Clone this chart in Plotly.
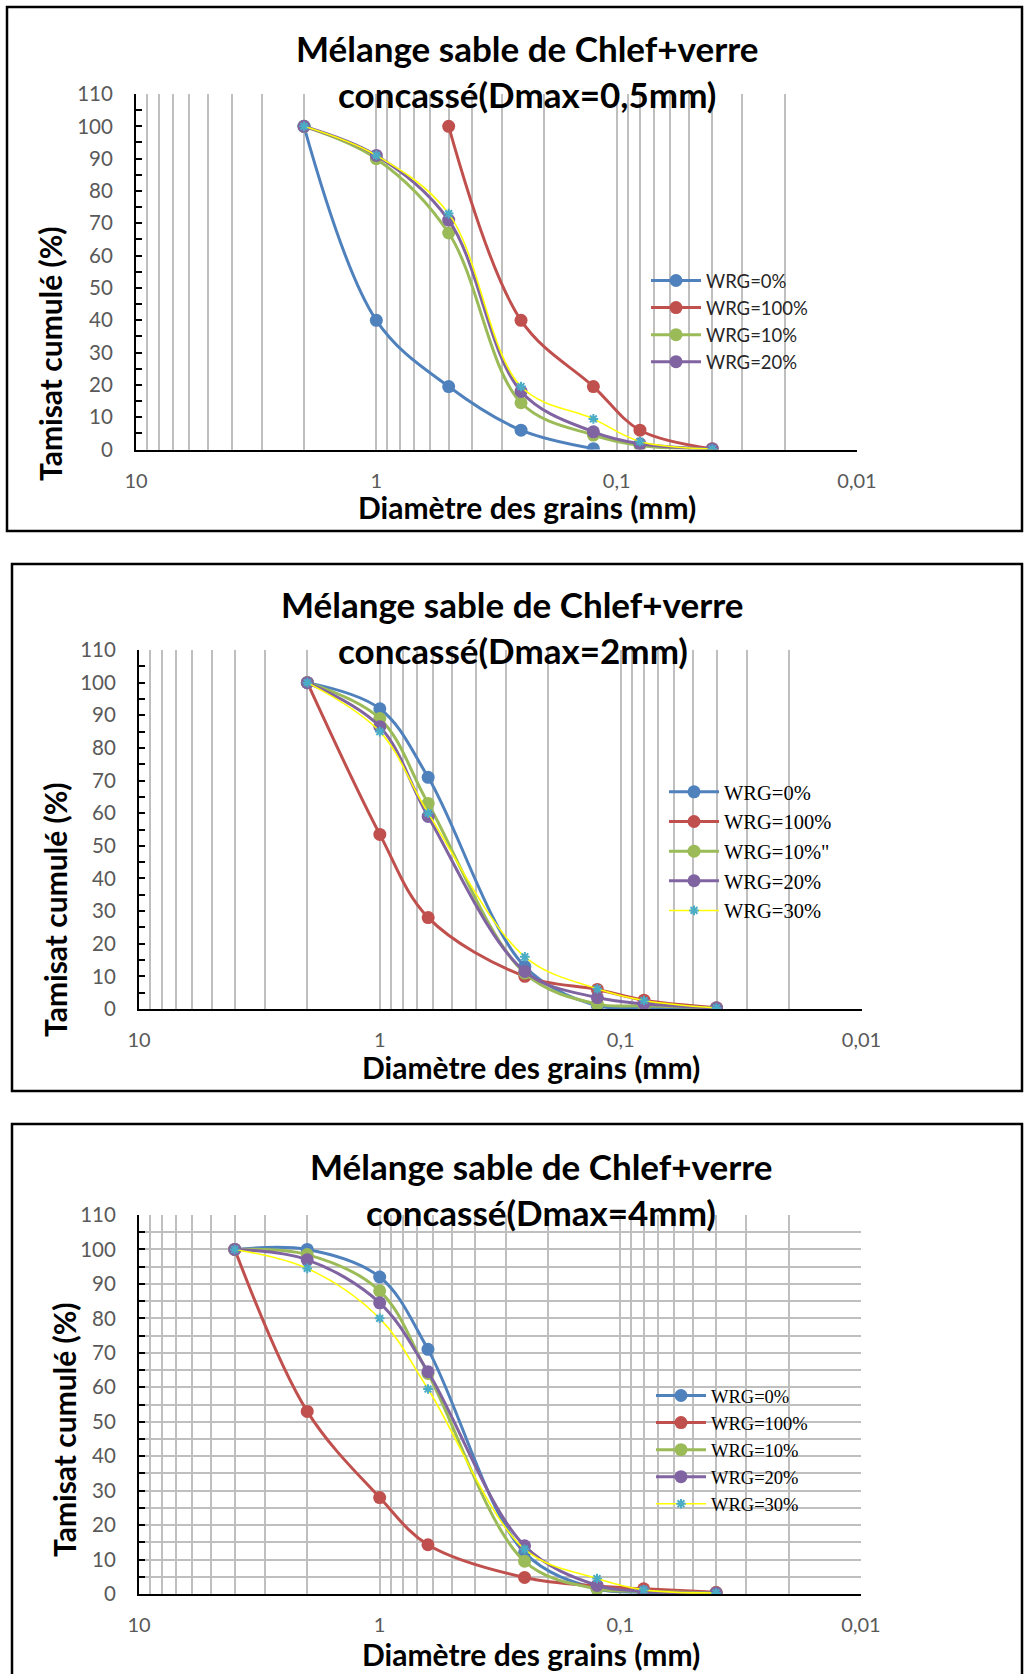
import plotly.graph_objects as go

# ---------------------------------------------------------------------------
# Data: cumulative passing (%) versus sieve opening (mm)
# ---------------------------------------------------------------------------
# Mix with Dmax = 0.5 mm
sieves_05 = [2, 1, 0.5, 0.25, 0.125, 0.08, 0.04]
d05_wrg0_x = [2, 1, 0.5, 0.25, 0.125]
d05_wrg0 = [100, 40, 19.5, 6, 0.3]
d05_wrg100_x = [0.5, 0.25, 0.125, 0.08, 0.04]
d05_wrg100 = [100, 40, 19.5, 6, 0.3]
d05_wrg10 = [100, 90, 67, 14.5, 4.5, 1.3, 0.2]
d05_wrg20 = [100, 91, 71, 18, 5.5, 1.8, 0.2]
d05_wrg30 = [100, 91, 73, 19.5, 9.5, 2.5, 0.2]

# Mix with Dmax = 2 mm
sieves_2 = [2, 1, 0.63, 0.25, 0.125, 0.08, 0.04]
d2_wrg0 = [100, 92, 71, 13, 1, 0.5, 0.3]
d2_wrg100 = [100, 53.5, 28, 10, 6, 2.7, 0.4]
d2_wrg10 = [100, 89, 63, 11, 1.5, 1, 0.3]
d2_wrg20 = [100, 86.5, 59, 11.5, 3.5, 1.6, 0.3]
d2_wrg30 = [100, 85, 60, 16, 6.2, 2.6, 0.3]

# Mix with Dmax = 4 mm
sieves_4 = [4, 2, 1, 0.63, 0.25, 0.125, 0.08, 0.04]
d4_wrg0 = [100, 100, 92, 71, 12, 1.5, 0.5, 0.3]
d4_wrg100 = [100, 53, 28, 14.3, 4.8, 2.3, 1.5, 0.5]
d4_wrg10 = [100, 98.5, 88, 64, 9.5, 1.5, 0.8, 0.3]
d4_wrg20 = [100, 97, 84.5, 64.5, 14, 2.5, 0.8, 0.3]
d4_wrg30 = [100, 94.5, 80, 59.5, 13, 4.5, 1.2, 0.3]

x_tick_vals = [10, 1, 0.1, 0.01]
x_tick_text = ["10", "1", "0,1", "0,01"]

# ---------------------------------------------------------------------------
W, H = 1024, 1674
BLUE, RED, GREEN, PURPLE = "#4F81BD", "#C0504D", "#9BBB59", "#8064A2"
YELLOW, CYAN = "#FFFF00", "#4BACC6"
GRID = "#BFBFBF"
TICK_GREY = "#595959"
SANS = "Lato"
SERIF = "Liberation Serif"


def fx(px):
    return px / W


def fy(px):
    return 1 - px / H


minor_vals = [m * 10.0 ** e for e in (0, -1, -2) for m in range(2, 10)]

panels = [
    dict(
        dmax="0,5",
        series=[
            ("WRG=0%", d05_wrg0_x, d05_wrg0, BLUE, True),
            ("WRG=100%", d05_wrg100_x, d05_wrg100, RED, True),
            ("WRG=10%", sieves_05, d05_wrg10, GREEN, True),
            ("WRG=20%", sieves_05, d05_wrg20, PURPLE, True),
            ("WRG=30%", sieves_05, d05_wrg30, None, False),
        ],
        box=(7, 7, 1022, 531),
        plot=(136, 94, 857, 449.6),
        title_xy=(527, 48, 94),
        xtitle_xy=(527, 507),
        ytitle_xy=(50, 354),
        hgrid=False,
        legend=dict(x=646, y=262, family=SANS, size=18.5, color="#262626"),
    ),
    dict(
        dmax="2",
        series=[
            ("WRG=0%", sieves_2, d2_wrg0, BLUE, True),
            ("WRG=100%", sieves_2, d2_wrg100, RED, True),
            ("WRG=10%\"", sieves_2, d2_wrg10, GREEN, True),
            ("WRG=20%", sieves_2, d2_wrg20, PURPLE, True),
            ("WRG=30%", sieves_2, d2_wrg30, None, True),
        ],
        box=(12, 564, 1022, 1091),
        plot=(139, 650, 861.5, 1009),
        title_xy=(512.5, 604, 650),
        xtitle_xy=(531, 1067),
        ytitle_xy=(55, 910),
        hgrid=False,
        legend=dict(x=664, y=772, family=SERIF, size=20.5, color="black"),
    ),
    dict(
        dmax="4",
        series=[
            ("WRG=0%", sieves_4, d4_wrg0, BLUE, True),
            ("WRG=100%", sieves_4, d4_wrg100, RED, True),
            ("WRG=10%", sieves_4, d4_wrg10, GREEN, True),
            ("WRG=20%", sieves_4, d4_wrg20, PURPLE, True),
            ("WRG=30%", sieves_4, d4_wrg30, None, True),
        ],
        box=(12, 1124, 1022, 1690),
        plot=(139, 1215, 861, 1594),
        title_xy=(541, 1166, 1212),
        xtitle_xy=(531, 1654),
        ytitle_xy=(64, 1430),
        hgrid=True,
        legend=dict(x=651, y=1377, family=SERIF, size=18.5, color="black"),
    ),
]

fig = go.Figure()
layout = dict(
    width=W,
    height=H,
    autosize=False,
    margin=dict(l=0, r=0, t=0, b=0, pad=0),
    paper_bgcolor="white",
    plot_bgcolor="white",
    shapes=[],
    annotations=[],
)

for i, p in enumerate(panels, start=1):
    sfx = "" if i == 1 else str(i)
    xa, ya = "x" + sfx, "y" + sfx
    leg = "legend" + sfx

    for name, xs, ys, color, show in p["series"]:
        if color is None:
            line = dict(color=YELLOW, width=1.6, shape="spline")
            marker = dict(symbol="asterisk-open", size=8, color=CYAN,
                          line=dict(color=CYAN, width=2))
        else:
            line = dict(color=color, width=3, shape="spline")
            marker = dict(symbol="circle", size=13, color=color)
        fig.add_trace(go.Scatter(
            x=xs, y=ys, name=name, mode="lines+markers",
            line=line, marker=marker, showlegend=show,
            xaxis=xa, yaxis=ya, legend=leg,
        ))

    x0, y0, x1, y1 = p["plot"]
    layout["xaxis" + sfx] = dict(
        type="log", range=[1, -2], domain=[fx(x0), fx(x1)], anchor=ya,
        tickvals=x_tick_vals, ticktext=x_tick_text,
        showgrid=True, gridcolor=GRID, gridwidth=1.5,
        minor=dict(tickvals=minor_vals, showgrid=True, gridcolor=GRID,
                   gridwidth=1.5),
        showline=True, linecolor="black", linewidth=2,
        ticks="", ticklabelstandoff=12, automargin=False,
        tickfont=dict(family=SANS, size=20, color=TICK_GREY),
        zeroline=False, fixedrange=True,
    )
    layout["yaxis" + sfx] = dict(
        range=[0, 110], domain=[fy(y1), fy(y0)], anchor=xa,
        tick0=0, dtick=10,
        ticks="inside", ticklen=6, tickcolor="black", tickwidth=1.5,
        minor=dict(dtick=5, ticks="inside", ticklen=6, tickcolor="black",
                   tickwidth=1.5, showgrid=p["hgrid"], gridcolor=GRID,
                   gridwidth=1.5),
        showgrid=p["hgrid"], gridcolor=GRID, gridwidth=1.5,
        showline=True, linecolor="black", linewidth=2,
        ticklabelstandoff=17, automargin=False,
        tickfont=dict(family=SANS, size=20.5, color=TICK_GREY),
        zeroline=False, fixedrange=True,
    )

    lg = p["legend"]
    layout[leg] = dict(
        x=fx(lg["x"]), y=fy(lg["y"]), xanchor="left", yanchor="top",
        bgcolor="rgba(0,0,0,0)", borderwidth=0, itemwidth=50,
        font=dict(family=lg["family"], size=lg["size"], color=lg["color"]),
        itemclick=False, itemdoubleclick=False,
    )

    bx0, by0, bx1, by1 = p["box"]
    layout["shapes"].append(dict(
        type="rect", xref="paper", yref="paper",
        x0=fx(bx0), x1=fx(bx1), y0=fy(by1), y1=fy(by0),
        line=dict(color="black", width=2.5), fillcolor="rgba(0,0,0,0)",
    ))

    tx, ty1, ty2 = p["title_xy"]
    title_font = dict(family=SANS, size=35, color="black")
    axis_font = dict(family=SANS, size=30, color="black")
    layout["annotations"] += [
        dict(text="<b>Mélange sable de Chlef+verre</b>", x=fx(tx), y=fy(ty1),
             xref="paper", yref="paper", showarrow=False,
             xanchor="center", yanchor="middle", font=title_font),
        dict(text="<b>concassé(Dmax=%smm)</b>" % p["dmax"], x=fx(tx), y=fy(ty2),
             xref="paper", yref="paper", showarrow=False,
             xanchor="center", yanchor="middle", font=title_font),
        dict(text="<b>Diamètre des grains (mm)</b>", x=fx(p["xtitle_xy"][0]),
             y=fy(p["xtitle_xy"][1]), xref="paper", yref="paper",
             showarrow=False, xanchor="center", yanchor="middle",
             font=axis_font),
        dict(text="<b>Tamisat cumulé (%)</b>", x=fx(p["ytitle_xy"][0]),
             y=fy(p["ytitle_xy"][1]), xref="paper", yref="paper",
             showarrow=False, xanchor="center", yanchor="middle",
             textangle=-90, font=axis_font),
    ]

fig.update_layout(**layout)
fig.write_html(
    "out.html",
    config={"responsive": False},
    post_script="document.body.style.margin='0';",
)
